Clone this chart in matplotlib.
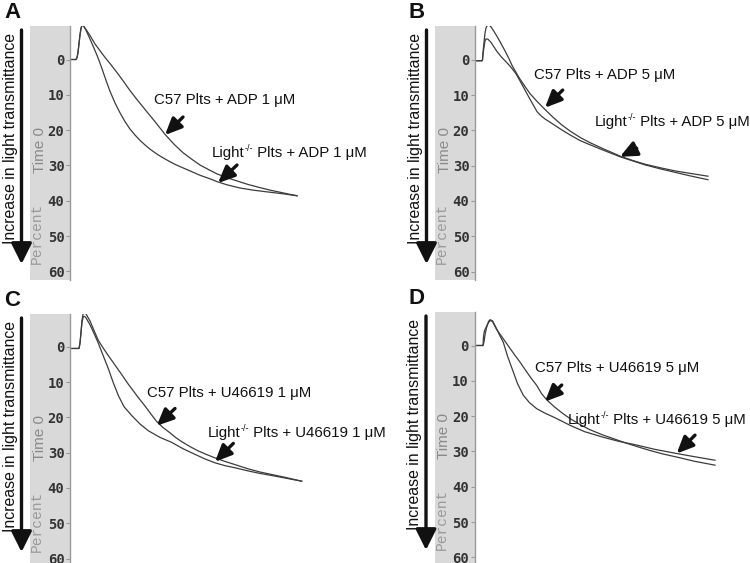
import matplotlib
matplotlib.use("Agg")
import matplotlib.pyplot as plt
from matplotlib.patches import Rectangle, FancyArrowPatch

plt.rcParams['font.family'] = ['Liberation Sans', 'DejaVu Sans']

# ---------------- data (time, percent aggregation) ----------------
yticks = [0, 10, 20, 30, 40, 50, 60]
ytick_labels = ['0', '10', '20', '30', '40', '50', '60']

# Panel A: ADP 1 uM
tA_c57 = [0, 6, 7, 8, 9, 10, 11, 12, 13, 14, 16, 20, 25, 30, 35, 41, 47, 53, 60, 66, 72, 78, 85, 95,
          104, 113, 122, 130, 140, 147, 157, 167, 178, 190, 200, 210, 220, 227]
vA_c57 = [0, 0, -0.5, -2, -4.5, -7, -8.8, -9.7, -9.7, -9.3, -8.5, -6.8, -4.4, -2.5, -0.6, 1.5, 3.7, 6.0,
          8.8, 11.0, 13.1, 15.2, 17.6, 21.2, 24.0, 26.4, 28.3, 29.9, 31.4, 32.4, 33.5, 34.4, 35.4, 36.3,
          37.0, 37.6, 38.2, 38.6]
tA_lgt = [0, 6, 7, 8, 9, 10, 11, 12, 13, 14, 16, 20, 24, 28, 32, 36, 40, 45, 50, 55, 60, 65, 70, 75, 80,
          88, 97, 105, 113, 122, 130, 140, 147, 157, 170, 183, 197, 212, 227]
vA_lgt = [0, 0, -0.5, -2, -4.5, -7, -8.8, -9.7, -9.7, -9.3, -8.3, -5.8, -3.2, -0.5, 2.6, 5.9, 9, 12.3,
          15.1, 17.6, 19.7, 21.4, 22.9, 24.2, 25.4, 27, 28.5, 29.7, 30.7, 31.8, 32.8, 33.8, 34.6, 35.5,
          36.4, 37, 37.5, 38, 38.6]

# Panel B: ADP 5 uM
tB_c57 = [0, 7, 7.5, 8, 9, 10, 11, 12.5, 14, 16, 19, 22, 26, 30, 34, 37, 41, 45, 50, 55, 62, 70, 78, 86,
          95, 105, 115, 128, 137, 145, 157, 170, 185, 200, 215, 233]
vB_c57 = [0.3, 0.3, 0, -2, -5, -7.5, -9, -9.8, -9.8, -9.3, -8, -6.6, -4.6, -2.5, -0.3, 1.6, 3.6, 5.5, 7.6,
          9.6, 11.8, 14.1, 16.3, 18.3, 20.2, 22, 23.5, 25.2, 26.3, 27.3, 28.5, 29.6, 30.6, 31.5, 32.2, 33]
tB_lgt = [0, 7, 7.5, 8, 9, 10, 11, 13, 16, 19, 22, 26, 30, 34, 37, 41, 45, 50, 55, 59, 62, 66, 70, 75, 82,
          88, 95, 105, 115, 128, 137, 145, 157, 170, 185, 200, 215, 233]
vB_lgt = [0.3, 0.3, 0, -1.5, -3.5, -5.3, -5.9, -5.8, -4.9, -3.6, -2.3, -0.9, 0.3, 1.5, 2.5, 4, 6, 8.6,
          11.2, 13.2, 14.7, 15.9, 16.8, 17.7, 19, 20.1, 21.3, 22.9, 24.1, 25.6, 26.6, 27.5, 28.6, 29.8,
          30.9, 31.9, 32.9, 34]

# Panel C: U46619 1 uM
tC_c57 = [0, 9, 10, 11, 12, 13.3, 14.5, 16, 20, 24, 28.3, 33, 38, 45, 52, 58, 61.7, 68, 75, 81, 86.7, 93,
          100, 106, 111.7, 120, 128, 137, 145, 155, 165, 178, 190, 200, 215, 231.7]
vC_c57 = [0.5, 0.5, -1, -4, -7.5, -9.6, -9.8, -9.3, -7.3, -4.6, -1.8, 0.3, 2.4, 5.2, 8, 10.5, 11.9, 14.3,
          16.8, 19.1, 21.2, 22.9, 24.4, 25.8, 26.9, 28.3, 29.5, 30.6, 31.5, 32.5, 33.4, 34.6, 35.5, 36.1,
          37, 38.1]
tC_lgt = [0, 9, 10, 11, 12, 13.3, 14.5, 16, 20, 24, 28.3, 33, 38.3, 43, 48.3, 54, 61.7, 70, 78.3, 90,
          101.7, 113, 125, 135, 145, 155, 165, 178.3, 190, 200, 215, 231.7]
vC_lgt = [0.5, 0.5, -1, -4, -7, -8.5, -8.6, -8.2, -6.2, -3.8, -1, 2.4, 6.2, 10, 13.8, 17, 19.5, 21.9,
          23.8, 25.7, 27.1, 28.9, 30.5, 31.8, 32.9, 33.7, 34.3, 35.2, 35.9, 36.4, 37.2, 38.1]

# Panel D: U46619 5 uM
tD_c57 = [0, 8.5, 9, 10, 11, 13, 15.5, 18, 22, 28.8, 35, 40, 45.5, 52, 57, 62.2, 67, 72.2, 80, 88, 95.5,
          105, 115, 128.8, 140, 150, 162.2, 175, 188, 202.2, 220, 240.5]
vD_c57 = [0, 0, -2.5, -4.2, -4.8, -6, -7.1, -6.8, -4.6, -1.9, 0.6, 2.6, 4.7, 7.4, 9.4, 11.3, 13.6, 15.4,
          17.4, 19.2, 20.7, 22.3, 23.8, 25.4, 26.5, 27.5, 28.6, 29.7, 30.7, 31.6, 32.8, 33.9]
tD_lgt = [0, 8.5, 9.5, 10.5, 12, 14, 15.5, 18, 22, 25, 28.8, 33, 38.8, 43, 48.8, 55, 62.2, 70, 80, 95.5,
          110, 128.8, 145, 162.2, 180, 202.2, 220, 240.5]
vD_lgt = [0, 0, -1, -3, -5, -6.8, -7.3, -7, -4.8, -3, -0.9, 3, 7.5, 10.8, 14.1, 16.2, 17.9, 19.1, 20.4,
          22.6, 24.4, 26, 27.2, 28.2, 29.4, 30.6, 31.5, 32.5]

labels_c57 = ['C57 Plts + ADP 1 μM', 'C57 Plts + ADP 5 μM',
              'C57 Plts + U46619 1 μM', 'C57 Plts + U46619 5 μM']
labels_lgt_rest = [' Plts + ADP 1 μM', ' Plts + ADP 5 μM',
                   ' Plts + U46619 1 μM', ' Plts + U46619 5 μM']
panel_letters = ['A', 'B', 'C', 'D']

# ---------------- layout ----------------
W, H = 750, 563
fig = plt.figure(figsize=(W / 100, H / 100), dpi=100)

def fx(px):
    return px / W

def fy(py):
    return 1 - py / H

PXU = 3.53  # pixels per percent unit
panels = [
    dict(ax_x=70, y0=59.5, top=26, bot=280, t=(tA_c57, vA_c57, tA_lgt, vA_lgt),
         c57_txt=(84, 11.5), c57_tail=(113, 16.3), c57_tip=(95, 21.4),
         lgt_txt=(142, 26.5), lgt_tail=(167, 29.9), lgt_tip=(148, 35.0)),
    dict(ax_x=475, y0=59.7, top=26, bot=280, t=(tB_c57, vB_c57, tB_lgt, vB_lgt),
         c57_txt=(59, 4.3), c57_tail=(87.7, 8.6), c57_tip=(70, 13.6),
         lgt_txt=(120, 17.6), lgt_tail=(161.7, 25.1), lgt_tip=(145, 27.5)),
    dict(ax_x=70, y0=346.7, top=314, bot=563, t=(tC_c57, vC_c57, tC_lgt, vC_lgt),
         c57_txt=(76.7, 13.1), c57_tail=(105, 17.5), c57_tip=(86.7, 22.4),
         lgt_txt=(138, 24.4), lgt_tail=(163.3, 27.4), lgt_tip=(145, 32.6)),
    dict(ax_x=474.5, y0=345.5, top=312, bot=563, t=(tD_c57, vD_c57, tD_lgt, vD_lgt),
         c57_txt=(60.5, 6.4), c57_tail=(87.2, 11.2), c57_tip=(70.5, 15.9),
         lgt_txt=(93.5, 21.1), lgt_tail=(220.5, 25.4), lgt_tip=(202.2, 30.6)),
]

AXW = 270
line_color = '#3c3c3c'
txt_color = '#111111'
FS = 10.8
for i, p in enumerate(panels):
    left = p['ax_x']
    ax = fig.add_axes([fx(left), fy(p['bot']), AXW / W, (p['bot'] - p['top']) / H])
    ax.set_zorder(3)
    ax.set_xlim(0, AXW)
    ax.set_ylim((p['bot'] - p['y0']) / PXU, (p['top'] - p['y0']) / PXU)
    ax.patch.set_alpha(0)
    for s in ['top', 'right', 'bottom']:
        ax.spines[s].set_visible(False)
    ax.spines['left'].set_color('#9a9a9a')
    ax.spines['left'].set_linewidth(1.0)
    ax.set_xticks([])
    ax.set_yticks(yticks)
    ax.set_yticklabels(ytick_labels, fontfamily='DejaVu Sans Mono', fontweight='bold',
                       fontsize=10, color='#333333')
    ax.tick_params(axis='y', length=3, width=0.8, color='#9a9a9a', pad=1)

    # grey band behind the axis
    fig.patches.append(Rectangle((fx(left - 40), fy(p['bot'])), 40 / W, (p['bot'] - p['top']) / H,
                                 transform=fig.transFigure, facecolor='#d9d9d9',
                                 edgecolor='none', zorder=0))
    fig.text(fx(left - 30), fy(p['top'] + 124), 'Time 0', rotation=90, ha='center', va='center',
             fontsize=11, color='#8a8a8a', zorder=1)
    fig.text(fx(left - 33), fy(p['top'] + 207), 'Percent', rotation=90, ha='center', va='center',
             fontsize=10.5, fontfamily='Liberation Mono', color='#9a9a9a', zorder=1)

    tc, vc, tl, vl = p['t']
    ax.plot(tc, vc, color=line_color, lw=0.9)
    ax.plot(tl, vl, color=line_color, lw=0.9)

    ax.text(p['c57_txt'][0], p['c57_txt'][1], labels_c57[i], ha='left', va='center',
            fontsize=FS, color=txt_color)
    t1 = ax.text(p['lgt_txt'][0], p['lgt_txt'][1], 'Light', ha='left', va='center',
                 fontsize=FS, color=txt_color)
    t2 = ax.annotate('-/-', xy=(1, 0.5), xycoords=t1, ha='left', va='bottom',
                     fontsize=6.5, color=txt_color)
    ax.annotate(labels_lgt_rest[i], xy=(1, 0), xycoords=(t2, t1), ha='left', va='bottom',
                fontsize=FS, color=txt_color)
    for tail, tip in [(p['c57_tail'], p['c57_tip']), (p['lgt_tail'], p['lgt_tip'])]:
        ax.annotate('', xy=tip, xytext=tail,
                    arrowprops=dict(arrowstyle='-|>,head_length=1.0,head_width=0.45',
                                    mutation_scale=10, lw=2.4, color=txt_color,
                                    shrinkA=0, shrinkB=0))

    # big vertical arrow + label
    arr_x = left - 48.5
    fig.add_artist(FancyArrowPatch((fx(arr_x), fy(p['top'] + 4)), (fx(arr_x), fy(p['top'] + 238)),
                                   transform=fig.transFigure,
                                   arrowstyle='-|>,head_length=0.9,head_width=0.45',
                                   mutation_scale=14, lw=2.4, color=txt_color,
                                   shrinkA=0, shrinkB=0))
    fig.text(fx(left - 59.5), fy(p['top'] + 113), 'Increase in light transmittance', rotation=90,
             ha='center', va='center', fontsize=11.4, color=txt_color)

    # panel letter
    fig.text(fx(left - 66), fy(p['top'] - 14), panel_letters[i], ha='left', va='center',
             fontsize=16, fontweight='bold', color=txt_color)

fig.savefig('out.png', dpi=100)
